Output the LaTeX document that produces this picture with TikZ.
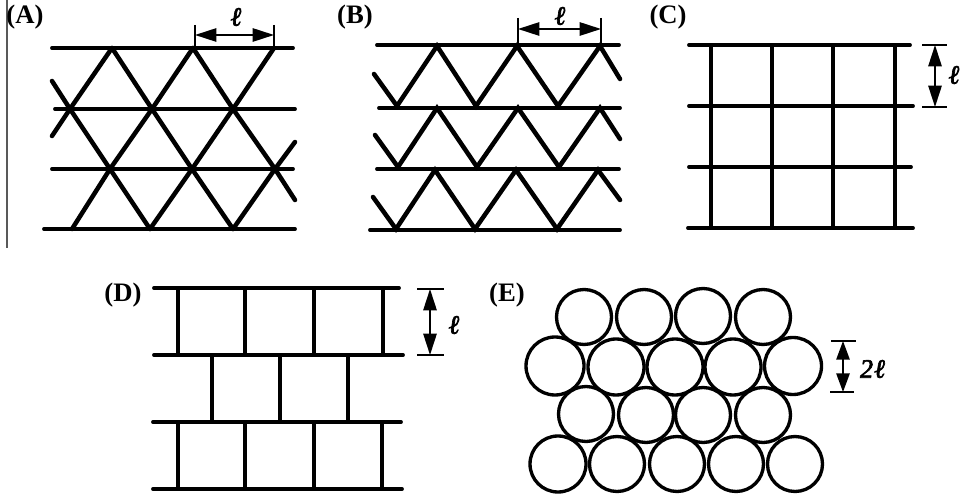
\documentclass[tikz,border=0pt]{standalone}
\usepackage{amsmath, amssymb}
\usepackage{fontspec}
\setmainfont{Liberation Serif}
\newfontfamily\lenfont[FakeBold=2.5, FakeSlant=0.15]{Liberation Serif}
\usepackage{tikz}
\usetikzlibrary{arrows.meta, positioning}
\tikzset{
  bar/.style={black, line width=2.9pt, line cap=round},
  strut/.style={black, line width=3.4pt, line cap=round},
  tick/.style={black, line width=1.8pt},
  dim/.style={black, line width=1.3pt, {Triangle[length=16pt, width=10pt]}-{Triangle[length=16pt, width=10pt]}},
  panel/.style={font=\fontsize{20pt}{20pt}\selectfont\bfseries, inner sep=0pt},
  len/.style={font=\fontsize{20pt}{20pt}\selectfont\lenfont, inner sep=0pt},
  ball/.style={draw=black, line width=2.5pt, circle, inner sep=0pt, fill=white},
}
\begin{document}
\begin{tikzpicture}[x=0.75pt, y=-0.75pt]
  \useasboundingbox (0,0) rectangle (966,498);
  % Frame edge
  \coordinate (edget) at (7,0);
  \coordinate (edgeb) at (7,248);
  \draw[black!65, line width=0.8pt] (edget) -- (edgeb);
  % Panel A
  \node[panel] (labA) at (25,17) {(A)};
  \foreach \i/\l/\r/\y in {1/52/293/48, 2/55/295/109, 3/52/293/169, 4/44/295/229} {
    \coordinate (al\i) at (\l,\y);
    \coordinate (ar\i) at (\r,\y);
    \draw[bar] (al\i) -- (ar\i);
  }
  \foreach \n/\x/\y in {a1/112/48, a2/193/48, a3/274/48, b1/70/109, b2/152/109, b3/233/109,
      c1/110/169, c2/192/169, c3/275/169, d1/72/229, d2/150/229, d3/233/229,
      e1/52/136, e2/295/142, e3/52/81, e4/295/200} {
    \coordinate (\n) at (\x,\y);
  }
  \draw[strut] (e1) -- (b1) -- (a1);
  \draw[strut] (d1) -- (c1) -- (b2) -- (a2);
  \draw[strut] (d2) -- (c2) -- (b3) -- (a3);
  \draw[strut] (d3) -- (c3) -- (e2);
  \draw[strut] (e3) -- (b1) -- (c1) -- (d2);
  \draw[strut] (a1) -- (b2) -- (c2) -- (d3);
  \draw[strut] (a2) -- (b3) -- (c3) -- (e4);
  \coordinate (at1) at (195,25);
  \coordinate (at2) at (274,25);
  \coordinate (ad1) at (195,35);
  \coordinate (ad2) at (274,35);
  \draw[tick] (at1) -- (195,48);
  \draw[tick] (at2) -- (274,48);
  \draw[dim] (ad1) -- (ad2);
  \node[len] (lenA) at (235,17) {ℓ};
  % Panel B
  \node[panel] (labB) at (355,17) {(B)};
  \foreach \i/\l/\r/\y in {1/377/619/45, 2/379/620/108, 3/377/619/169, 4/370/620/230} {
    \coordinate (bl\i) at (\l,\y);
    \coordinate (br\i) at (\r,\y);
    \draw[bar] (bl\i) -- (br\i);
  }
  \foreach \r/\yt/\yb/\ya/\yz/\xa/\xb/\xc/\xd/\xe/\xf/\xl/\xr in {
      1/46/106/74/79/437/517/600/397/476/558/374/620,
      2/108/167/135/139/437/518/600/398/477/559/375/620,
      3/170/229/197/200/435/516/598/396/475/557/373/620} {
    \coordinate (bt\r1) at (\xa,\yt);
    \coordinate (bt\r2) at (\xb,\yt);
    \coordinate (bt\r3) at (\xc,\yt);
    \coordinate (bv\r1) at (\xd,\yb);
    \coordinate (bv\r2) at (\xe,\yb);
    \coordinate (bv\r3) at (\xf,\yb);
    \coordinate (bf\r1) at (\xl,\ya);
    \coordinate (bf\r2) at (\xr,\yz);
    \draw[strut] (bf\r1) -- (bv\r1) -- (bt\r1) -- (bv\r2) -- (bt\r2) -- (bv\r3) -- (bt\r3) -- (bf\r2);
  }
  \coordinate (bt1) at (518,18);
  \coordinate (bt2) at (601,18);
  \coordinate (bd1) at (518,29);
  \coordinate (bd2) at (601,29);
  \draw[tick] (bt1) -- (518,46);
  \draw[tick] (bt2) -- (601,46);
  \draw[dim] (bd1) -- (bd2);
  \node[len] (lenB) at (559,16) {ℓ};
  % Panel C
  \node[panel] (labC) at (668,17) {(C)};
  \foreach \i/\l/\r/\y in {1/689/910/45, 2/689/913/106, 3/689/911/167, 4/688/913/228} {
    \coordinate (cl\i) at (\l,\y);
    \coordinate (cr\i) at (\r,\y);
    \draw[bar] (cl\i) -- (cr\i);
  }
  \foreach \i/\x in {1/711, 2/772, 3/833, 4/895} {
    \coordinate (ct\i) at (\x,45);
    \coordinate (cb\i) at (\x,228);
    \draw[bar] (ct\i) -- (cb\i);
  }
  \coordinate (cd1) at (935,45);
  \coordinate (cd2) at (935,107);
  \draw[tick] (922,45) -- (947,45);
  \draw[tick] (922,107) -- (947,107);
  \draw[dim] (cd1) -- (cd2);
  \node[len] (lenC) at (953,75) {ℓ};
  % Panel D
  \node[panel] (labD) at (123,295) {(D)};
  \foreach \i/\l/\r/\y in {1/154/399/288, 2/154/403/355, 3/153/401/422, 4/153/402/489} {
    \coordinate (dl\i) at (\l,\y);
    \coordinate (dr\i) at (\r,\y);
    \draw[bar] (dl\i) -- (dr\i);
  }
  \foreach \i/\x in {1/178, 2/245, 3/314, 4/383} {
    \coordinate (dt\i) at (\x,288);
    \coordinate (db\i) at (\x,355);
    \draw[bar] (dt\i) -- (db\i);
  }
  \foreach \i/\x in {1/212, 2/280, 3/348} {
    \coordinate (dm\i) at (\x,355);
    \coordinate (dn\i) at (\x,422);
    \draw[bar] (dm\i) -- (dn\i);
  }
  \foreach \i/\x in {1/178, 2/245, 3/314, 4/382} {
    \coordinate (du\i) at (\x,422);
    \coordinate (dv\i) at (\x,489);
    \draw[bar] (du\i) -- (dv\i);
  }
  \coordinate (dd1) at (430,289);
  \coordinate (dd2) at (430,355);
  \draw[tick] (417,289) -- (444,289);
  \draw[tick] (417,355) -- (444,355);
  \draw[dim] (dd1) -- (dd2);
  \node[len] (lenD) at (453,325) {ℓ};
  % Panel E
  \node[panel] (labE) at (507,295) {(E)};
  \foreach \n/\x/\y/\d in {e11/584/317/55, e12/644/317/55, e13/703/316/55, e14/763/317/55,
      e21/555/366/58, e22/616/367/56, e23/675/367/56, e24/733/367/56, e25/793/366/57,
      e31/586/414/55, e32/646/415/55, e33/703/415/55, e34/763/415/55,
      e41/558/464/56, e42/617/464/55, e43/677/464/55, e44/736/464/55, e45/795/464/55} {
    \node[ball, minimum size=\d*0.75pt] (\n) at (\x,\y) {};
  }
  \coordinate (ed1) at (843,341);
  \coordinate (ed2) at (843,392);
  \draw[tick] (831,341) -- (856,341);
  \draw[tick] (830,392) -- (854,392);
  \draw[black, line width=1.3pt, {Triangle[length=14pt, width=10pt]}-{Triangle[length=14pt, width=10pt]}] (ed1) -- (ed2);
  \node[len] (lenE) at (872,369) {2ℓ};
\end{tikzpicture}
\end{document}
